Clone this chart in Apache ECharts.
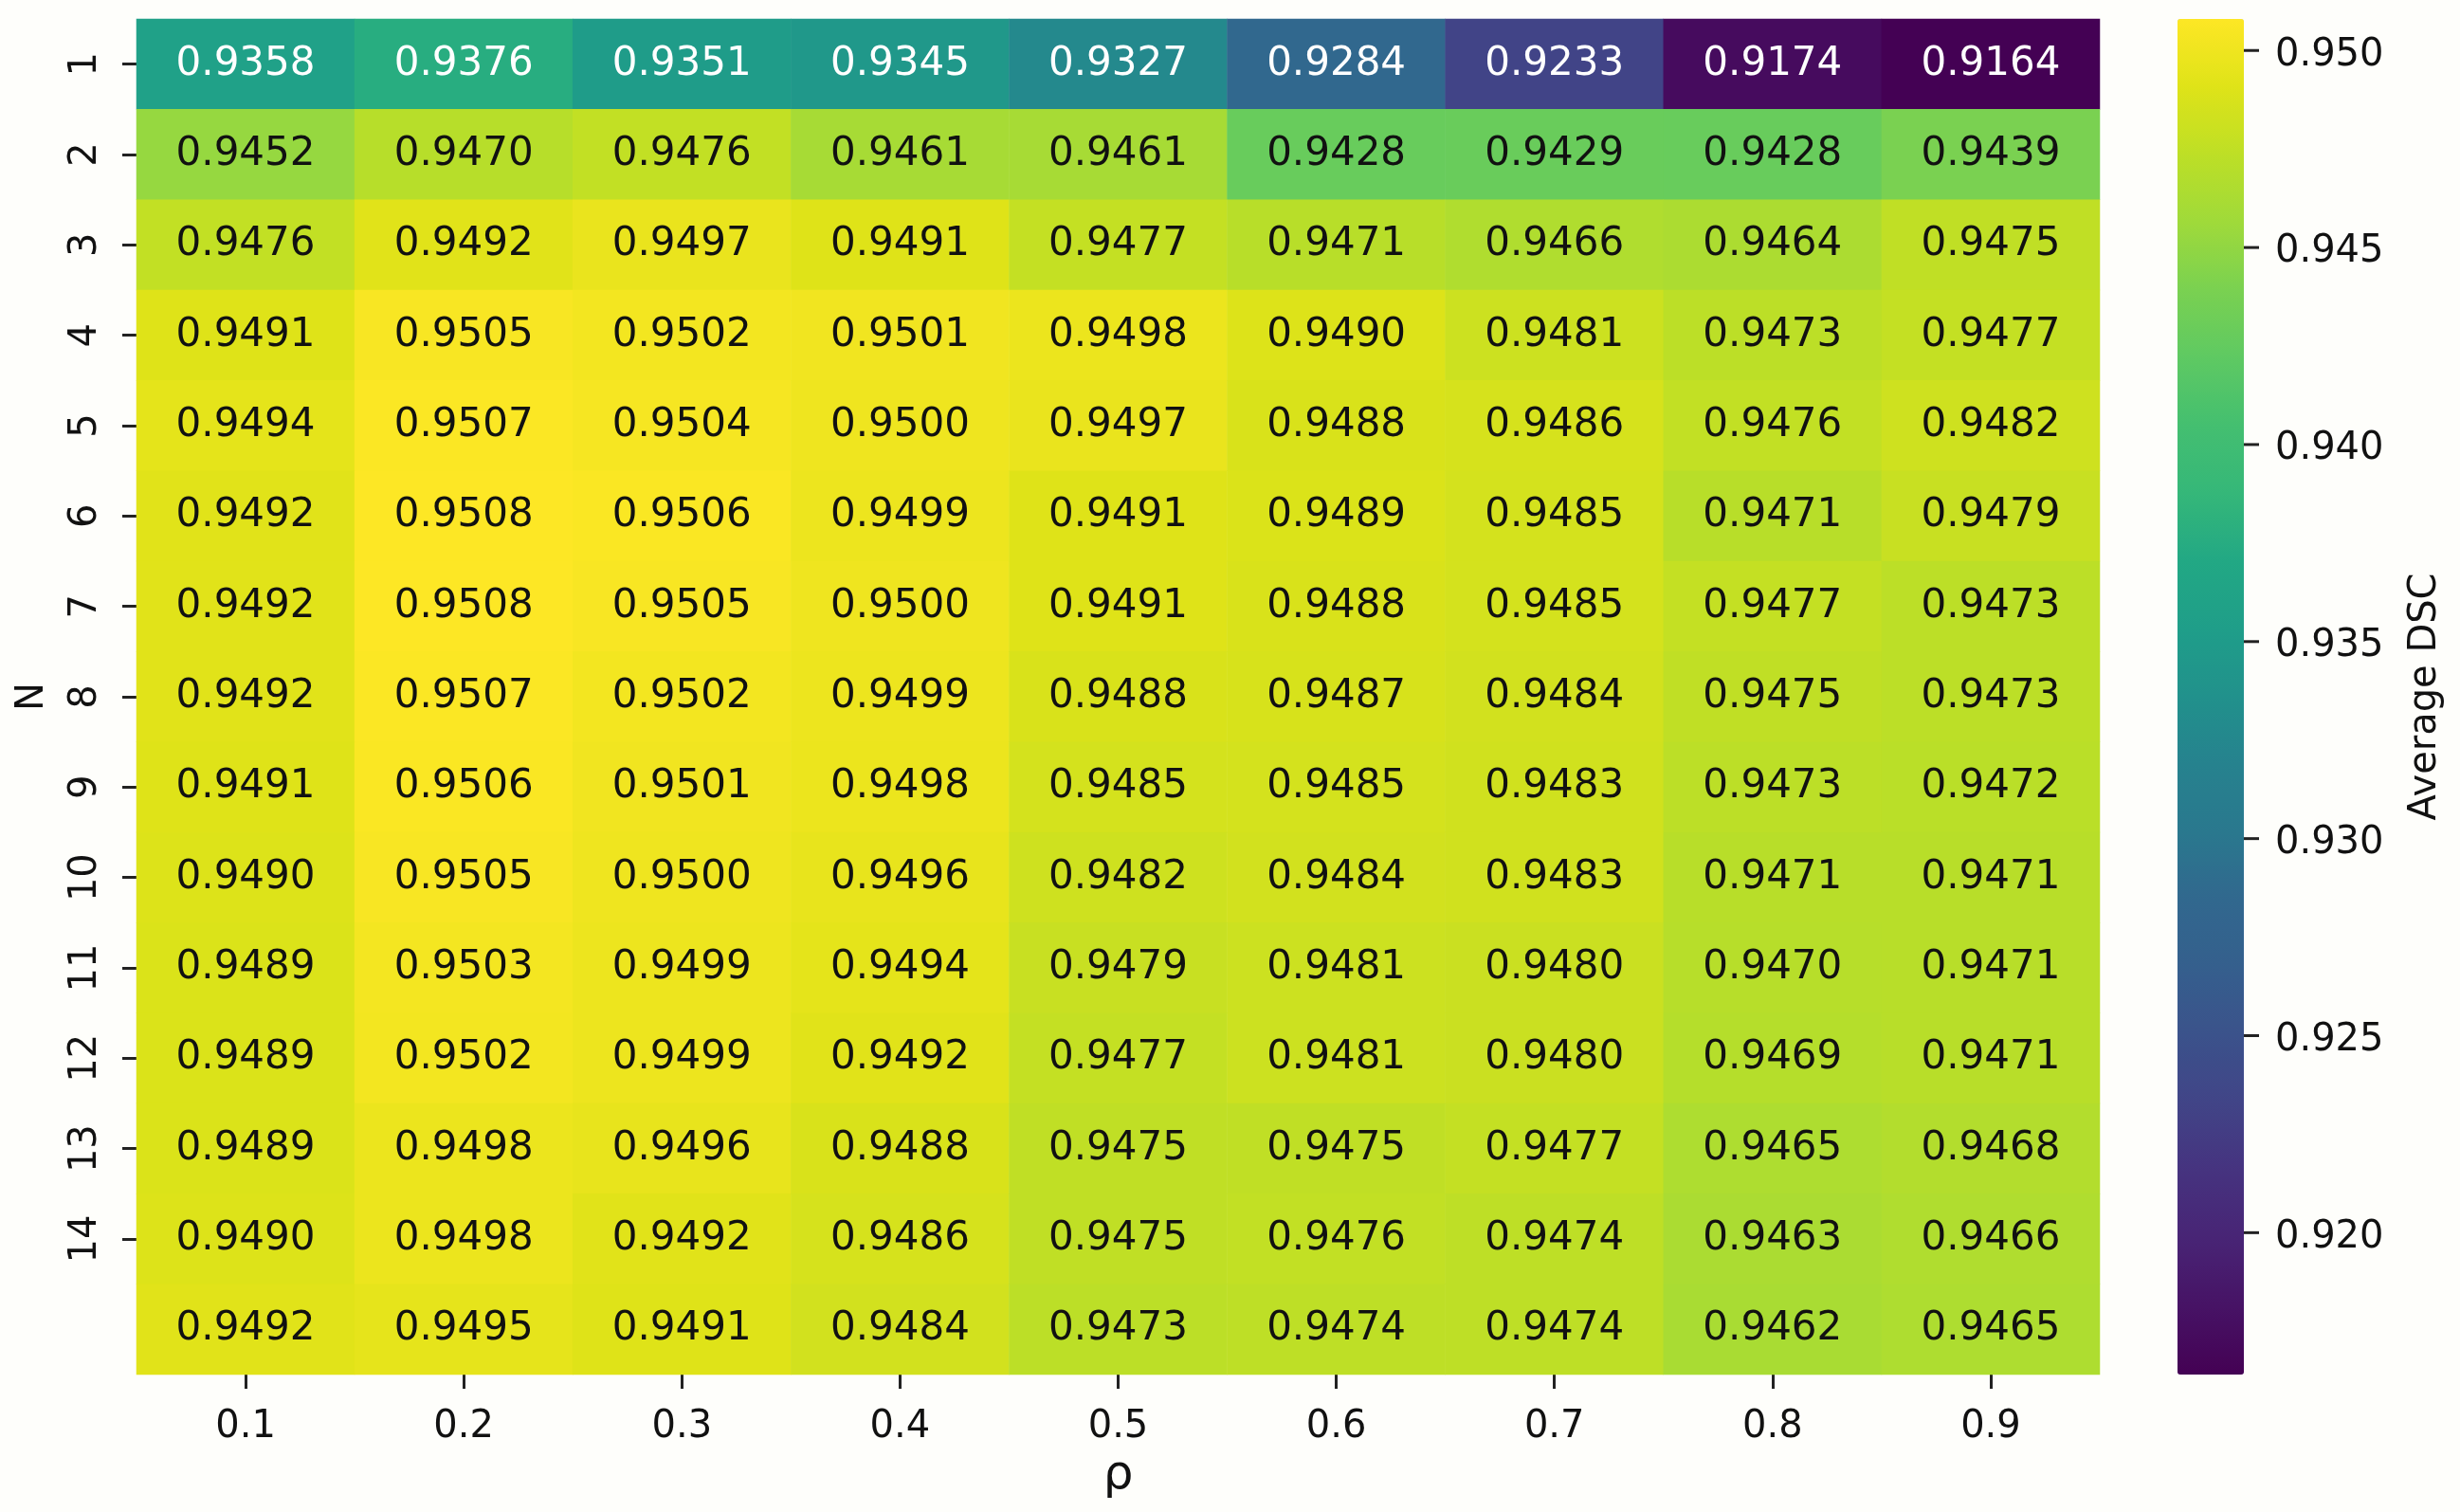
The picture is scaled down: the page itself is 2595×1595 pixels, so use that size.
<!DOCTYPE html>
<html>
<head>
<meta charset="utf-8">
<script src="https://cdn.jsdelivr.net/npm/echarts@6/dist/echarts.min.js"></script>
<style>
    html, body { margin: 0; padding: 0; background: #fefefb; }
    #main { width: 2595px; height: 1595px; }
</style>
</head>
<body>
<div id="main"></div>
<script>
// columns (rho) and rows (N)
var rhoLabels = ['0.1', '0.2', '0.3', '0.4', '0.5', '0.6', '0.7', '0.8', '0.9'];
var nLabels = ['1', '2', '3', '4', '5', '6', '7', '8', '9', '10', '11', '12', '13', '14', '15'];

// average DSC, one array per row N
var row1 = [0.9358, 0.9376, 0.9351, 0.9345, 0.9327, 0.9284, 0.9233, 0.9174, 0.9164];
var row2 = [0.9452, 0.9470, 0.9476, 0.9461, 0.9461, 0.9428, 0.9429, 0.9428, 0.9439];
var row3 = [0.9476, 0.9492, 0.9497, 0.9491, 0.9477, 0.9471, 0.9466, 0.9464, 0.9475];
var row4 = [0.9491, 0.9505, 0.9502, 0.9501, 0.9498, 0.9490, 0.9481, 0.9473, 0.9477];
var row5 = [0.9494, 0.9507, 0.9504, 0.9500, 0.9497, 0.9488, 0.9486, 0.9476, 0.9482];
var row6 = [0.9492, 0.9508, 0.9506, 0.9499, 0.9491, 0.9489, 0.9485, 0.9471, 0.9479];
var row7 = [0.9492, 0.9508, 0.9505, 0.9500, 0.9491, 0.9488, 0.9485, 0.9477, 0.9473];
var row8 = [0.9492, 0.9507, 0.9502, 0.9499, 0.9488, 0.9487, 0.9484, 0.9475, 0.9473];
var row9 = [0.9491, 0.9506, 0.9501, 0.9498, 0.9485, 0.9485, 0.9483, 0.9473, 0.9472];
var row10 = [0.9490, 0.9505, 0.9500, 0.9496, 0.9482, 0.9484, 0.9483, 0.9471, 0.9471];
var row11 = [0.9489, 0.9503, 0.9499, 0.9494, 0.9479, 0.9481, 0.9480, 0.9470, 0.9471];
var row12 = [0.9489, 0.9502, 0.9499, 0.9492, 0.9477, 0.9481, 0.9480, 0.9469, 0.9471];
var row13 = [0.9489, 0.9498, 0.9496, 0.9488, 0.9475, 0.9475, 0.9477, 0.9465, 0.9468];
var row14 = [0.9490, 0.9498, 0.9492, 0.9486, 0.9475, 0.9476, 0.9474, 0.9463, 0.9466];
var row15 = [0.9492, 0.9495, 0.9491, 0.9484, 0.9473, 0.9474, 0.9474, 0.9462, 0.9465];

// colour bar ticks
var cbarTicks = [0.920, 0.925, 0.930, 0.935, 0.940, 0.945, 0.950];

var rows = [row1, row2, row3, row4, row5, row6, row7, row8, row9, row10, row11, row12, row13, row14, row15];

var vMin = Infinity, vMax = -Infinity;
var data = [];
rows.forEach(function (r, yi) {
    r.forEach(function (v, xi) {
        vMin = Math.min(vMin, v);
        vMax = Math.max(vMax, v);
        data.push({
            value: [xi, yi, v],
            label: { color: v < 0.940 ? '#ffffff' : '#111111' }
        });
    });
});

// viridis
var viridis = ['#440154', '#471365', '#482475', '#46337f', '#414487', '#3b528b', '#355f8d', '#31688e',
    '#2a788e', '#26828e', '#21918c', '#1f9e89', '#22a884', '#35b779', '#44bf70', '#5ec962',
    '#7ad151', '#9fda3a', '#bddf26', '#dfe318', '#fde725'];

var font = 'DejaVu Sans';
var tickStyle = { color: '#222', width: 3 };
// axis line kept on (ticks need it) but invisible
var hiddenLine = { show: true, lineStyle: { color: 'rgba(0,0,0,0)' } };

var myChart = echarts.init(document.getElementById('main'));
var option = {
    animation: false,
    backgroundColor: '#fefefb',
    textStyle: { fontFamily: font },
    grid: [
        { left: 144, top: 20, width: 2071, height: 1430 },
        { left: 2297, top: 20, width: 70, height: 1430 }
    ],
    // y axis title, rotated like matplotlib's
    graphic: [{
        type: 'text',
        x: 35,
        y: 735,
        rotation: Math.PI / 2,
        style: { text: 'N', font: '40px "DejaVu Sans"', fill: '#111', align: 'center', verticalAlign: 'middle' }
    }],
    xAxis: [{
        type: 'category',
        gridIndex: 0,
        data: rhoLabels,
        name: 'ρ',
        nameLocation: 'middle',
        nameGap: 82,
        nameTextStyle: { fontSize: 50, color: '#111', fontFamily: font },
        axisLine: hiddenLine,
        axisTick: { show: true, alignWithLabel: true, length: 15, lineStyle: tickStyle },
        axisLabel: { fontSize: 40, color: '#111', margin: 36, fontFamily: font },
        splitLine: { show: false }
    }, {
        type: 'value',
        gridIndex: 1,
        min: 0,
        max: 1,
        show: false
    }],
    yAxis: [{
        type: 'category',
        gridIndex: 0,
        data: nLabels,
        inverse: true,
        axisLine: hiddenLine,
        axisTick: {
            show: true, alignWithLabel: true, length: 15, lineStyle: tickStyle,
            interval: function (i) { return i < 14; }
        },
        axisLabel: {
            fontSize: 40, color: '#111', rotate: 90, margin: 33, fontFamily: font,
            interval: function (i) { return i < 14; }
        },
        splitLine: { show: false }
    }, {
        // colour bar scale
        type: 'value',
        gridIndex: 1,
        position: 'right',
        min: vMin,
        max: vMax,
        name: 'Average DSC',
        nameLocation: 'middle',
        nameRotate: 90,
        nameGap: 172,
        nameTextStyle: { fontSize: 40, color: '#111', fontFamily: font },
        axisLine: { show: false },
        axisTick: { show: false },
        axisLabel: {
            margin: 0,
            customValues: cbarTicks,
            formatter: function (v) { return '{tk|}{sp|}{v|' + v.toFixed(3) + '}'; },
            rich: {
                tk: { width: 16, height: 3, backgroundColor: '#222', verticalAlign: 'middle' },
                sp: { width: 17 },
                v: { fontSize: 40, color: '#111', fontFamily: font, verticalAlign: 'middle', padding: [10, 0, 0, 0] }
            }
        },
        splitLine: { show: false }
    }],
    visualMap: {
        type: 'continuous',
        seriesIndex: 0,
        dimension: 2,
        min: vMin,
        max: vMax,
        calculable: false,
        showLabel: false,
        text: null,
        left: 2297,
        top: 20,
        padding: 0,
        itemWidth: 70,
        itemHeight: 1430,
        inRange: { color: viridis }
    },
    series: [{
        type: 'heatmap',
        xAxisIndex: 0,
        yAxisIndex: 0,
        data: data,
        itemStyle: { borderWidth: 0 },
        label: {
            show: true,
            fontSize: 42,
            fontFamily: font,
            formatter: function (p) { return p.value[2].toFixed(4); }
        },
        emphasis: { disabled: true }
    }]
};
myChart.setOption(option);
</script>
</body>
</html>
